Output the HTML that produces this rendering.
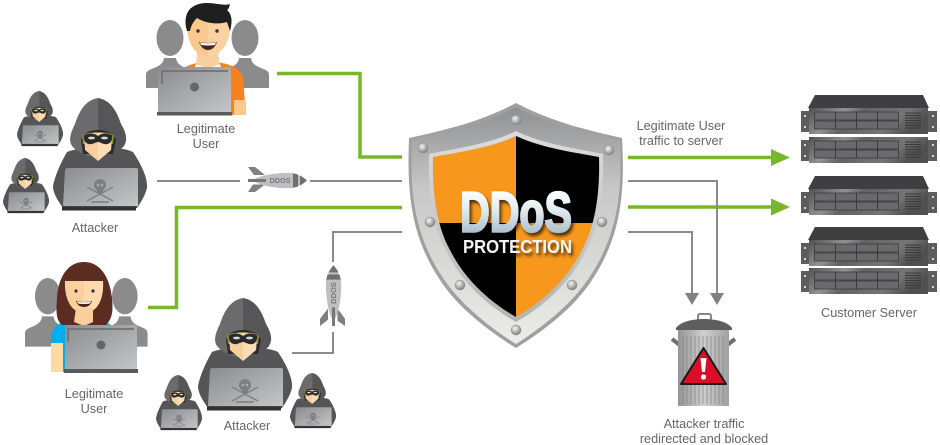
<!DOCTYPE html>
<html><head><meta charset="utf-8"><style>
html,body{margin:0;padding:0;background:#fff}
svg{display:block}
text{font-family:"Liberation Sans",sans-serif}
.l{font-size:12.7px;fill:#666;text-anchor:middle}
</style></head><body>
<svg width="940" height="445" viewBox="0 0 940 445" xmlns="http://www.w3.org/2000/svg">
<defs>
<linearGradient id="lap" x1="0" y1="0" x2="1" y2="1"><stop offset="0" stop-color="#8b8c8f"/><stop offset="1" stop-color="#c4c5c7"/></linearGradient>
<linearGradient id="frame" x1="0" y1="0" x2="0" y2="1"><stop offset="0" stop-color="#8f9092"/><stop offset=".35" stop-color="#c8c8c8"/><stop offset="1" stop-color="#ecece8"/></linearGradient>
<linearGradient id="rim" x1="0" y1="0" x2="0" y2="1"><stop offset="0" stop-color="#dcdcdc"/><stop offset="1" stop-color="#b4b4b2"/></linearGradient>
<linearGradient id="steel" gradientUnits="userSpaceOnUse" x1="0" y1="190" x2="0" y2="233"><stop offset="0" stop-color="#fff"/><stop offset=".5" stop-color="#dfe9ee"/><stop offset="1" stop-color="#a9c0cc"/></linearGradient>
<radialGradient id="riv" cx=".4" cy=".35" r=".7"><stop offset="0" stop-color="#f4f4f4"/><stop offset="1" stop-color="#777"/></radialGradient>
<linearGradient id="face" x1="0" y1="0" x2="1" y2=".25"><stop offset="0" stop-color="#505051"/><stop offset=".3" stop-color="#929292"/><stop offset=".45" stop-color="#626263"/><stop offset=".8" stop-color="#757575"/><stop offset="1" stop-color="#505050"/></linearGradient>
<linearGradient id="can" x1="0" y1="0" x2="1" y2="0"><stop offset="0" stop-color="#949494"/><stop offset=".5" stop-color="#cfcfcf"/><stop offset="1" stop-color="#a0a0a0"/></linearGradient>
<clipPath id="in"><path d="M516,136C490,148 460,152 433,157C432,190 436,225 450,250C465,280 490,302 516,317C542,302 567,280 582,250C596,225 600,190 599,157C572,152 542,148 516,136Z"/></clipPath>
<filter id="sh" x="-10%" y="-10%" width="125%" height="130%"><feDropShadow dx="2" dy="3" stdDeviation="1.5" flood-color="#000" flood-opacity=".7"/></filter>

<g id="hacker">
<path d="M14,54C24,50 34,50 47,50C60,50 72,50 80,54C88,66 95,80 94,90C92,98 88,104 84,110L10,110C6,104 0,96 0,88C2,78 7,66 14,54Z" fill="#555557"/>
<path d="M45,0C32,2 26,14 22,26C18,34 15,42 19,48C24,54 32,58 45,60Z" fill="#6b6b6d"/>
<path d="M45,0C58,2 64,14 68,26C73,34 75,42 71,48C66,54 58,58 45,60Z" fill="#565658"/>
<path d="M28,42C30,35 37,32 45,32C53,32 60,35 63,42L60,56L30,56Z" fill="#2c2c2c"/>
<path d="M29,38C32,33 58,33 61,38L60,46L30,46Z" fill="#8e8f3a"/>
<path d="M31,37C36,34 54,34 59,37L58,52L45,63L32,52Z" fill="#f9cfa0"/>
<path d="M45,35L59,37L58,52L45,63Z" fill="#fbdcb4"/>
<path d="M31,37C39,34 42,36 45,38C48,36 51,34 59,37C60,44 56,47 51,46C48,45 46,44 45,44C44,44 42,45 39,46C34,47 30,44 31,37Z" fill="#2b2b2b"/>
<ellipse cx="38.500" cy="40" rx="3.500" ry="1.400" fill="#d8d8d8"/><ellipse cx="51.500" cy="40" rx="3.500" ry="1.400" fill="#d8d8d8"/>
<path d="M12,72C12,71 13,70 15,70L83,70C85,70 85,71 85,72L85,108L10,108Z" fill="url(#lap)"/>
<rect x="9" y="108.500" width="74" height="4" fill="#333"/>
<circle cx="47" cy="87" r="6" fill="#7d7e80"/>
<rect x="44" y="91" width="6" height="4" fill="#7d7e80"/>
<path d="M34,89L60,103M60,89L34,103M38,104L56,104" stroke="#7d7e80" stroke-width="1.400" fill="none"/>
<circle cx="45" cy="87" r="1.300" fill="#aaa"/><circle cx="49" cy="87" r="1.300" fill="#aaa"/>
</g>

<g id="person">
<ellipse cx="24" cy="18" rx="13.500" ry="18" fill="#8b8b8b"/>
<path d="M0,68V55C0,51 3,50 8,48C13,46 17,44 18,38H30C31,44 35,46 40,48C45,50 48,51 48,55V68Z" fill="#8b8b8b"/>
</g>

<g id="srv">
<rect x="0" y="3" width="8" height="21" fill="#5d5d5f"/><rect x="127" y="3" width="9" height="21" fill="#5d5d5f"/>
<circle cx="4" cy="8" r="1" fill="#fff"/><circle cx="4" cy="19" r="1" fill="#fff"/><circle cx="132" cy="8" r="1" fill="#fff"/><circle cx="132" cy="19" r="1" fill="#fff"/>
<rect x="8" y="0" width="119" height="26" fill="url(#face)"/>
<g fill="#6a6a6c" stroke="#333" stroke-width=".7"><rect x="13.500" y="4" width="21" height="8"/><rect x="34.500" y="4" width="21" height="8"/><rect x="55.500" y="4" width="21" height="8"/><rect x="76.500" y="4" width="21" height="8"/><rect x="13.500" y="13" width="21" height="8"/><rect x="34.500" y="13" width="21" height="8"/><rect x="55.500" y="13" width="21" height="8"/><rect x="76.500" y="13" width="21" height="8"/></g>
<path d="M104,5H120M104,7.500H120M104,10H120M104,12.500H120M104,15H120M104,17.500H120M104,20H120" stroke="#3a3a3a" stroke-width=".9"/>
</g>
<path id="srvtop" d="M14,0H122L128,13H7Z" fill="#3f3f41"/>

<g id="rocket">
<path d="M1,1H8L18,9H7Z" fill="#808082"/>
<path d="M1,26H8L18,18.500H6Z" fill="#808082"/>
<path d="M5,14.500C15,8 35,6.500 45,7C50,8 56,11 60,14.500C56,18 50,21 45,22C35,23 15,21 5,14.500Z" fill="#bfbfc1"/>
<rect x="1" y="13" width="18" height="3" fill="#777"/>
<path d="M46,7.200L51,8.500V20.500L46,21.800Z" fill="#6f6f71"/>
<path d="M53,9.500C56,11 58,13 60,14.500C58,16 56,18 53,19.500Z" fill="#6f6f71"/>
<text x="33" y="17.200" font-size="7" font-weight="bold" fill="#7a7a7c" text-anchor="middle" textLength="21" lengthAdjust="spacingAndGlyphs">DDOS</text>
</g>
</defs>

<!-- connectors -->
<g fill="none" stroke-linejoin="miter">
<path d="M277,73.500H360V157H402" stroke="#76b82a" stroke-width="3.500"/>
<path d="M148,307.500H176.500V207.500H402" stroke="#76b82a" stroke-width="3.500"/>
<path d="M628,157.500H772" stroke="#76b82a" stroke-width="3.500"/>
<path d="M628,207H772" stroke="#76b82a" stroke-width="3.500"/>
<path d="M157,181H240M310,181H402" stroke="#8a8a8c" stroke-width="2"/>
<path d="M292,353H333V332M333,262V232H402" stroke="#8a8a8c" stroke-width="2"/>
<path d="M628,181H717V296" stroke="#8a8a8c" stroke-width="2"/>
<path d="M628,232H692V296" stroke="#8a8a8c" stroke-width="2"/>
</g>
<path d="M771,149L790,157.500L771,166Z" fill="#76b82a"/>
<path d="M771,198.500L790,207L771,215.500Z" fill="#76b82a"/>
<path d="M685,293H699L692,305Z" fill="#808082"/>
<path d="M710,293H724L717,305Z" fill="#808082"/>

<!-- rockets -->
<use href="#rocket" x="247" y="166"/>
<use href="#rocket" transform="translate(319,327) rotate(-90) scale(1.030,1)"/>

<!-- legit male -->
<use href="#person" transform="translate(146,20)"/>
<use href="#person" transform="translate(221,20)"/>
<path d="M180,70C188,65 196,62 208,62C225,62 240,66 243,78L246,115H180Z" fill="#f58220"/>
<rect x="234" y="100" width="12" height="15" fill="#fcc98a"/>
<path d="M197,52L218,52L220,66L208,70L196,66Z" fill="#f9cf9e"/>
<path d="M196,64L208,69L220,64L221,67L208,72L195,67Z" fill="#fff"/>
<path d="M187,20C186,42 194,56 208,56C222,56 231,42 231,20L208,12Z" fill="#f9c88f"/>
<path d="M208,12L231,20C231,42 222,56 208,56Z" fill="#fbd6a8" opacity=".7"/>
<path d="M187,31C182,14 190,3 207,3C216,3 224,6 230,4C229,7 229,9 227,10C233,15 232,24 230,31L227,22C217,25 205,23 197,18C194,21 191,25 190,31Z" fill="#1f1f1f"/>
<circle cx="198" cy="31" r="1.700" fill="#333"/><circle cx="217" cy="31" r="1.700" fill="#333"/>
<path d="M199,42Q208,44 217,42Q214,50 208,50Q202,50 199,42Z" fill="#4a2418"/>
<path d="M200,42.500Q208,44 216,42.500L215,45Q208,46 201,45Z" fill="#fff"/>
<rect x="158" y="67" width="73" height="45" fill="url(#lap)"/>
<rect x="161" y="70" width="67" height="2" fill="#777"/><rect x="161" y="70" width="2" height="14" fill="#777"/>
<circle cx="194.500" cy="87" r="4.500" fill="#666"/>
<rect x="157" y="112" width="75" height="3.500" fill="#5a5a5c"/>

<!-- legit female -->
<use href="#person" transform="translate(25,278) scale(.95,1.010)"/>
<use href="#person" transform="translate(102,278) scale(.95,1.010)"/>
<path d="M56,372L51,372L51,338C52,326 60,322 70,321L100,321L110,324L110,372Z" fill="#00aeef"/>
<rect x="51" y="343" width="12" height="29" fill="#fdd9a3"/>
<path d="M84,262C66,262 58,280 57,298C56,312 56,320 62,325L106,325C113,318 113,310 112,298C110,280 102,262 84,262Z" fill="#5b2c22"/>
<path d="M65,281H103C104,298 98,313 84,313C71,313 64,298 65,281Z" fill="#fccf9c"/>
<path d="M84,281H103C104,298 98,313 84,313Z" fill="#fddcb3" opacity=".8"/>
<path d="M76,308H93V322L84,326L74,322Z" fill="#f9cf9e"/>
<circle cx="76" cy="291" r="1.600" fill="#333"/><circle cx="93" cy="291" r="1.600" fill="#333"/>
<path d="M76,301Q84,303 92,301Q90,307 84,307Q78,307 76,301Z" fill="#4a2418"/>
<path d="M77,301.500Q84,303 91,301.500L90,303.500Q84,304.500 78,303.500Z" fill="#fff"/>
<rect x="65" y="325" width="72" height="44" fill="url(#lap)"/>
<rect x="67" y="328" width="67" height="2" fill="#777"/><rect x="67" y="328" width="2" height="14" fill="#777"/>
<circle cx="101" cy="345" r="4.500" fill="#666"/>
<rect x="64" y="369" width="74" height="4" fill="#5a5a5c"/>

<!-- hackers -->
<use href="#hacker" transform="translate(53,98)"/>
<use href="#hacker" transform="translate(17,91) scale(.49)"/>
<use href="#hacker" transform="translate(3,158) scale(.49)"/>
<use href="#hacker" transform="translate(198,298)"/>
<use href="#hacker" transform="translate(156,375) scale(.49)"/>
<use href="#hacker" transform="translate(290,373) scale(.49)"/>

<!-- shield -->
<path d="M516,103C480,122 445,130 409,138C407,190 410,235 440,280C458,308 490,332 516,348C542,332 574,308 592,280C622,235 625,190 622,138C587,130 552,122 516,103Z" fill="#a0a0a0"/>
<path d="M516,107C482,125 448,133 412,140C410,190 413,233 443,278C461,305 492,329 516,344C540,329 571,305 589,278C619,233 622,190 620,140C584,133 550,125 516,107Z" fill="url(#frame)"/>
<path d="M516,131C490,144 458,148 429,154C428,190 432,226 447,252C462,283 488,306 516,322C544,306 570,283 585,252C600,226 604,190 603,154C574,148 542,144 516,131Z" fill="url(#rim)"/>
<g clip-path="url(#in)">
<rect x="430" y="130" width="86" height="93" fill="#f7981d"/>
<rect x="516" y="130" width="86" height="93" fill="#000"/>
<rect x="430" y="223" width="86" height="100" fill="#000"/>
<rect x="516" y="223" width="86" height="100" fill="#f7981d"/>
</g>
<g fill="url(#riv)" stroke="#8a8a8a" stroke-width=".5">
<circle cx="516" cy="120" r="5"/><circle cx="423" cy="148" r="5"/><circle cx="609" cy="150" r="5"/><circle cx="430" cy="222" r="5"/><circle cx="602" cy="222" r="5"/><circle cx="460" cy="285" r="5"/><circle cx="572" cy="285" r="5"/><circle cx="516" cy="330" r="5"/>
</g>
<text x="460" y="231.500" font-size="57" font-weight="bold" fill="url(#steel)" stroke="url(#steel)" stroke-width="2.200" textLength="112" lengthAdjust="spacingAndGlyphs" filter="url(#sh)">DDoS</text>
<text x="463" y="253" font-size="18" font-weight="bold" fill="#f4f4f4" textLength="109" lengthAdjust="spacingAndGlyphs" filter="url(#sh)">PROTECTION</text>

<!-- servers -->
<use href="#srvtop" x="801" y="95"/><use href="#srv" x="801" y="108"/><use href="#srv" x="801" y="137"/>
<use href="#srvtop" x="801" y="176"/><use href="#srv" x="801" y="189"/>
<use href="#srvtop" x="801" y="227"/><use href="#srv" x="801" y="240"/><use href="#srv" x="801" y="268"/>

<!-- trash -->
<path d="M672,339L681,346M735,339L726,346" stroke="#6e6e70" stroke-width="4" fill="none"/>
<path d="M698,320V316Q698,314 700,314H709Q711,314 711,316V320" fill="none" stroke="#888" stroke-width="2"/>
<path d="M676,328C680,322 692,319 704,319C716,319 728,322 732,328V330H676Z" fill="#5e5e60"/>
<rect x="678" y="330" width="51" height="76" fill="url(#can)"/>
<path d="M683,336V404M687,336V404M691,336V404M695,336V404M699,336V404M703,336V404M707,336V404M711,336V404M715,336V404M719,336V404M723,336V404" stroke="#808082" stroke-width="1.500" opacity=".45"/>
<path d="M703.500,348L726,384H681Z" fill="#d90f28" stroke="#1a1a1a" stroke-width="2" stroke-linejoin="round"/>
<path d="M700.500,358H706.500L705,372H702Z" fill="#fff"/><circle cx="703.500" cy="377" r="2.600" fill="#fff"/>

<!-- labels -->
<text class="l" x="206" y="133">Legitimate</text><text class="l" x="206" y="148">User</text>
<text class="l" x="95" y="232">Attacker</text>
<text class="l" x="94" y="398">Legitimate</text><text class="l" x="94" y="413">User</text>
<text class="l" x="247" y="430">Attacker</text>
<text class="l" x="869" y="317">Customer Server</text>
<text class="l" x="681" y="130">Legitimate User</text><text class="l" x="681" y="145">traffic to server</text>
<text class="l" x="704" y="428">Attacker traffic</text><text class="l" x="704" y="443">redirected and blocked</text>
</svg>
</body></html>
